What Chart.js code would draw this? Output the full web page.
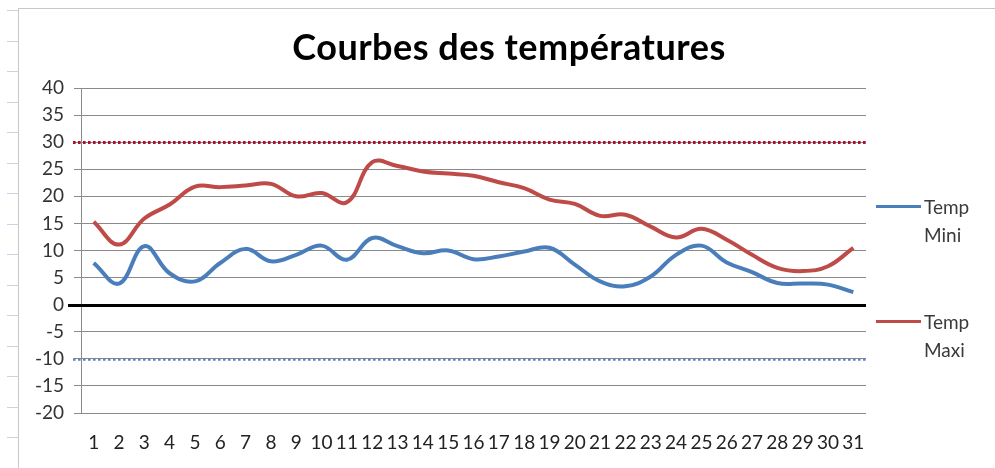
<!DOCTYPE html>
<html>
<head>
<meta charset="utf-8">
<script src="https://cdn.jsdelivr.net/npm/chart.js@4.4.1/dist/chart.umd.min.js"></script>
<style>
  html, body { margin: 0; padding: 0; background: #fff; }
  #wrap { position: relative; width: 995px; height: 468px; overflow: hidden; }
  #frame { position: absolute; left: 18px; top: 8px; right: -2px; bottom: -2px; border-left: 1px solid #c8c8c8; border-top: 1px solid #c8c8c8; }
  #rows { position: absolute; left: 7px; top: 10px; width: 11px; bottom: 0;
    background: repeating-linear-gradient(to bottom, #c9d3e3 0, #c9d3e3 1px, transparent 1px, transparent 30.5px); }
  canvas { position: absolute; left: 0; top: 0; }
  #title { position: absolute; left: 509px; top: 28px; transform: translateX(-50%); white-space: nowrap;
    font-family: Lato, sans-serif; font-weight: bold; font-size: 36px; line-height: 36px; letter-spacing: 0.5px; color: #000; }
  .leg { position: absolute; font-family: Lato, sans-serif; font-size: 19px; color: #3a3a3a; line-height: 28px; }
  .leg .sw { position: absolute; left: 0; width: 45px; height: 3px; top: 12px; }
  .leg .tx { position: absolute; left: 48px; top: 0; white-space: nowrap; }
</style>
</head>
<body>
<div id="wrap">
  <div id="rows"></div>
  <div id="frame"></div>
  <canvas id="chart" width="995" height="468"></canvas>
  <div id="title">Courbes des températures</div>
  <div id="legend"></div>
</div>
<script>
const days = ["1","2","3","4","5","6","7","8","9","10","11","12","13","14","15","16","17","18","19","20","21","22","23","24","25","26","27","28","29","30","31"];
const tempMini = [7.7, 3.9, 10.8, 5.8, 4.3, 7.7, 10.3, 8.0, 9.2, 10.9, 8.3, 12.3, 10.8, 9.5, 10.0, 8.4, 8.9, 9.8, 10.5, 7.4, 4.3, 3.4, 5.2, 9.2, 10.9, 7.8, 6.0, 4.0, 3.9, 3.7, 2.3];
const tempMaxi = [15.3, 11.1, 15.9, 18.5, 21.8, 21.7, 22.0, 22.3, 20.0, 20.6, 18.9, 26.3, 25.6, 24.6, 24.2, 23.8, 22.6, 21.5, 19.4, 18.6, 16.4, 16.6, 14.4, 12.4, 14.0, 12.0, 9.2, 6.8, 6.2, 7.1, 10.5];
const yTicks = [-20, 40, 5]; // min, max, step
const seuilMaxi = 30;
const seuilMini = -10;

const refLines = {
  id: "refLines",
  beforeDatasetsDraw(chart) {
    const { ctx, chartArea, scales } = chart;
    const y = scales.y;
    const draw = (val, color, width, dash, x0) => {
      const py = Math.round(y.getPixelForValue(val)) + 0.5;
      ctx.save();
      ctx.strokeStyle = color;
      ctx.lineWidth = width;
      ctx.setLineDash(dash);
      ctx.beginPath();
      ctx.moveTo(x0, py);
      ctx.lineTo(chartArea.right, py);
      ctx.stroke();
      ctx.restore();
    };
    draw(seuilMaxi, "#a8102e", 3, [2.6, 2.4], chartArea.left - 8);
    draw(seuilMini, "#5f86b8", 2.5, [2.6, 2.4], chartArea.left - 8);
    draw(0, "#000", 3, [], chartArea.left - 13);
  }
};

const chart = new Chart(document.getElementById("chart"), {
  type: "line",
  data: {
    labels: days,
    datasets: [
      { label: "Temp Mini", data: tempMini, borderColor: "#4a7ebb", borderWidth: 4, tension: 0.4, pointRadius: 0, fill: false },
      { label: "Temp Maxi", data: tempMaxi, borderColor: "#be4b48", borderWidth: 4, tension: 0.4, pointRadius: 0, fill: false }
    ]
  },
  options: {
    responsive: false,
    animation: false,
    layout: { padding: { left: 20, right: 129, top: 88, bottom: 15 } },
    plugins: {
      legend: { display: false },
      tooltip: { enabled: false },
      title: { display: false }
    },
    scales: {
      x: {
        offset: true,
        grid: { display: false, drawTicks: false },
        border: { display: false },
        ticks: { color: "#222", font: { family: "Lato", size: 19 }, padding: 18, autoSkip: false, maxRotation: 0, minRotation: 0 },
        afterFit(s) { s.height = 40; }
      },
      y: {
        min: yTicks[0],
        max: yTicks[1],
        ticks: { stepSize: yTicks[2], color: "#333", font: { family: "Lato", size: 19 }, padding: 10 },
        grid: { color: "#8a8a8a", lineWidth: 1, tickLength: 7 },
        border: { display: true, color: "#8a8a8a", width: 1 },
        afterFit(s) { s.width = 61; }
      }
    }
  },
  plugins: [refLines]
});

// legend on the right, text wrapped on two lines like the original
const legendPos = [{ left: 876, top: 193 }, { left: 876, top: 308 }];
const legend = document.getElementById("legend");
chart.data.datasets.forEach((ds, i) => {
  const el = document.createElement("div");
  el.className = "leg";
  el.style.left = legendPos[i].left + "px";
  el.style.top = legendPos[i].top + "px";
  const parts = ds.label.split(" ");
  el.innerHTML = `<div class="sw" style="background:${ds.borderColor}"></div><div class="tx">${parts[0]}<br>${parts[1]}</div>`;
  legend.appendChild(el);
});
</script>
</body>
</html>
